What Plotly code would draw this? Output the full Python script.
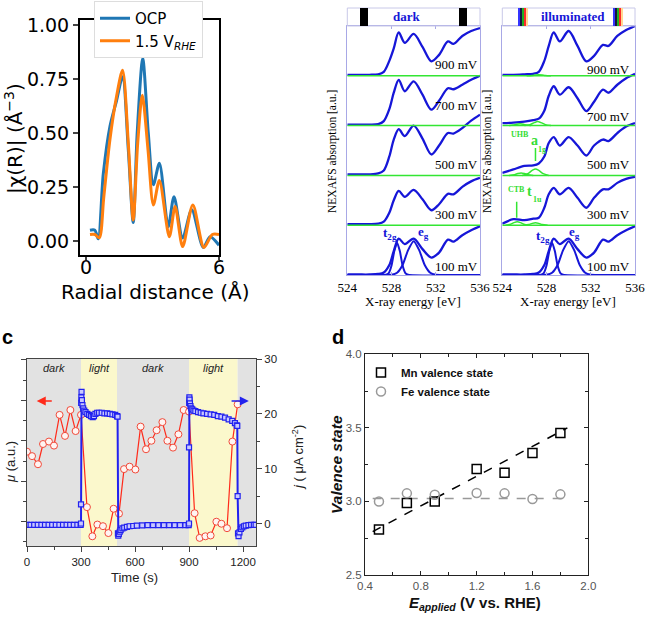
import plotly.graph_objects as go

W, H = 645, 619
def px(x): return x / W
def py(y): return 1 - y / H

# ---------------- Panel a: EXAFS |chi(R)| ----------------
r_ocp   = [0.18, 0.4, 0.55, 0.78, 1.08, 1.38, 1.65, 1.91, 2.13, 2.31, 2.56, 2.81, 3.04, 3.31, 3.71, 3.97, 4.36, 4.77, 5.29, 5.6, 6.0]
chi_ocp = [0.05, 0.05, 0.01, 0.31, 0.53, 0.65, 0.76, 0.42, 0.085, 0.50, 0.845, 0.50, 0.26, 0.36, 0.066, 0.205, 0.014, 0.145, -0.03, 0.02, -0.02]
r_15    = [0.18, 0.4, 0.6, 0.8, 1.08, 1.38, 1.65, 1.91, 2.13, 2.33, 2.54, 2.8, 3.04, 3.31, 3.76, 4.02, 4.36, 4.82, 5.32, 5.7, 6.0]
chi_15  = [0.03, 0.03, 0.015, 0.2, 0.47, 0.67, 0.79, 0.45, 0.097, 0.45, 0.675, 0.42, 0.167, 0.28, 0.02, 0.16, -0.026, 0.167, -0.03, 0.03, 0.03]

# ---------------- Panel b: NEXAFS spectra ----------------
E_spec = [524, 525, 526, 526.8, 527.3, 527.8, 528.2, 528.65, 529.2, 530.0, 530.8, 531.6, 532.3, 533.1, 533.6, 534.4, 535.2, 536]
potentials = ["100 mV", "300 mV", "500 mV", "700 mV", "900 mV"]
dark_spectra = [
    [0.01, 0.01, 0.01, 0.02, 0.05, 0.2, 0.48, 0.73, 0.62, 0.73, 0.52, 0.35, 0.45, 0.71, 0.67, 0.8, 0.9, 0.98],
    [0.02, 0.02, 0.02, 0.03, 0.07, 0.25, 0.5, 0.69, 0.57, 0.71, 0.52, 0.3, 0.42, 0.63, 0.62, 0.77, 0.88, 0.95],
    [0.02, 0.02, 0.02, 0.04, 0.1, 0.38, 0.72, 0.93, 0.79, 1.0, 0.74, 0.42, 0.6, 0.85, 0.84, 0.95, 1.1, 1.22],
    [0.02, 0.02, 0.02, 0.03, 0.09, 0.33, 0.66, 0.92, 0.69, 0.89, 0.62, 0.32, 0.5, 0.75, 0.73, 0.82, 0.92, 1.0],
    [0.02, 0.02, 0.02, 0.03, 0.08, 0.3, 0.55, 0.87, 0.66, 0.84, 0.58, 0.29, 0.42, 0.69, 0.64, 0.8, 0.9, 0.96],
]
ill_spectra = [
    [0.01, 0.01, 0.01, 0.02, 0.05, 0.2, 0.48, 0.73, 0.62, 0.73, 0.52, 0.35, 0.45, 0.71, 0.67, 0.8, 0.9, 0.98],
    [0.03, 0.12, 0.1, 0.13, 0.15, 0.35, 0.62, 0.75, 0.62, 0.75, 0.55, 0.35, 0.55, 0.72, 0.72, 0.85, 0.93, 0.97],
    [0.05, 0.12, 0.19, 0.2, 0.24, 0.38, 0.65, 0.77, 0.6, 0.77, 0.6, 0.4, 0.6, 0.72, 0.69, 0.85, 0.98, 1.05],
    [0.05, 0.06, 0.08, 0.11, 0.14, 0.3, 0.6, 0.79, 0.62, 0.77, 0.55, 0.29, 0.48, 0.72, 0.66, 0.82, 0.95, 1.04],
    [0.02, 0.02, 0.03, 0.04, 0.08, 0.3, 0.6, 0.87, 0.69, 0.9, 0.6, 0.29, 0.4, 0.62, 0.6, 0.8, 0.92, 1.0],
]
dark_label_y = [0.17, 0.22, 0.22, 0.4, 0.22]
ill_label_y = [0.17, 0.22, 0.22, 0.19, 0.12]
# 100 mV fit components
t2g_E = [524, 527.5, 527.75, 528.0, 528.25, 528.5, 528.75, 529.0, 529.25, 529.5, 536]
t2g_v = [0, 0.005, 0.04, 0.19, 0.48, 0.65, 0.48, 0.19, 0.04, 0.005, 0]
eg_E = [524, 527.5, 528.0, 528.5, 529.0, 529.5, 530.0, 530.5, 531.0, 531.5, 532.0, 532.5, 536]
eg_v = [0, 0.001, 0.005, 0.044, 0.2, 0.5, 0.68, 0.5, 0.2, 0.044, 0.005, 0.001, 0]
# illuminated green components: (potential index, energies, values)
green_comps = [
    (1, [524.3, 524.75, 525.05, 525.35, 525.65, 525.95, 526.4], [0, 0.02, 0.052, 0.07, 0.052, 0.02, 0]),
    (1, [525.9, 526.4, 526.7, 527.0, 527.3, 527.6, 528.1], [0, 0.014, 0.037, 0.05, 0.037, 0.014, 0]),
    (2, [524.6, 525.1, 525.4, 525.7, 526.0, 526.3, 526.8], [0, 0.015, 0.037, 0.05, 0.037, 0.015, 0]),
    (2, [525.8, 526.3, 526.7, 527.0, 527.3, 527.7, 528.2], [0, 0.035, 0.1, 0.13, 0.1, 0.035, 0]),
    (3, [524.6, 525.0, 525.3, 525.6, 525.9, 526.2, 526.6], [0, 0.01, 0.026, 0.035, 0.026, 0.01, 0]),
    (3, [526.0, 526.5, 526.9, 527.2, 527.5, 527.9, 528.4], [0, 0.02, 0.06, 0.08, 0.06, 0.02, 0]),
    (4, [526.2, 526.7, 527.0, 527.3, 527.6, 527.9, 528.4], [0, 0.006, 0.015, 0.02, 0.015, 0.006, 0]),
]
e_ticks = [524, 528, 532, 536]

# ---------------- Panel c: time series ----------------
mu_t = [0, 28, 61, 89, 122, 150, 181, 211, 241, 270, 300, 333, 363, 391, 422, 452, 481, 511, 539, 570,
        602, 631, 661, 691, 720, 752, 780, 811, 841, 870, 900, 931, 959, 991, 1020, 1052, 1080, 1111, 1141, 1170]
mu = [1.73, 1.62, 1.42, 1.92, 1.98, 1.88, 2.64, 2.12, 2.76, 2.24, 2.64, 0.36, -0.36, -0.07, -0.11, -0.28, 0.32, 0.2, 1.30, 1.36,
      1.29, 2.35, 1.79, 2.0, 2.26, 2.46, 2.0, 1.83, 2.16, 2.76, 2.72, 0.21, -0.40, -0.36, -0.34, 0.0, -0.05, -0.16, 1.98, 2.9]
j_t = [0, 20, 40, 60, 80, 100, 120, 140, 160, 180, 200, 220, 240, 260, 280, 298, 300, 300, 301, 302, 303, 305, 308, 312, 318, 325,
       335, 345, 355, 365, 372, 380, 390, 400, 415, 430, 445, 460, 475, 490, 500, 503, 505, 507, 510, 515, 520, 530, 540, 555,
       570, 590, 610, 640, 670, 700, 730, 760, 790, 820, 850, 880, 898, 900, 900, 901, 902, 903, 905, 908, 912, 918, 925, 935,
       950, 965, 980, 1000, 1020, 1040, 1060, 1080, 1100, 1120, 1140, 1155, 1165, 1168, 1170, 1172, 1175, 1180, 1188, 1196, 1205,
       1215, 1230, 1245, 1260, 1270]
j = [-0.25, -0.25, -0.25, -0.25, -0.25, -0.25, -0.25, -0.25, -0.25, -0.25, -0.25, -0.25, -0.25, -0.25, -0.25, -0.25, 0.0, 3.5,
     22.0, 23.0, 24.0, 22.5, 21.6, 21.0, 20.6, 20.3, 20.0, 19.8, 19.6, 19.4, 19.6, 20.0, 20.2, 20.2, 20.2, 20.1, 20.1, 20.0, 19.9,
     19.8, 19.6, 19.5, -1.8, -2.2, -1.9, -1.5, -1.2, -0.9, -0.75, -0.6, -0.5, -0.45, -0.4, -0.35, -0.3, -0.3, -0.3, -0.3, -0.3,
     -0.3, -0.3, -0.3, -0.3, 0.0, 13.9, 22.0, 23.0, 22.6, 21.9, 21.4, 21.0, 20.8, 20.6, 20.5, 20.3, 20.2, 20.1, 20.0, 19.9, 19.8,
     19.6, 19.5, 19.3, 19.0, 18.7, 18.3, 17.9, 17.8, 5.0, -1.8, -2.3, -1.6, -1.0, -0.7, -0.5, -0.4, -0.3, -0.25, -0.25, -0.25]
period_start = [0, 300, 500, 900, 1170]
period_end = [300, 500, 900, 1170, 1272]
period_label = ["dark", "light", "dark", "light", ""]

# ---------------- Panel d: valence states ----------------
E_app = [0.5, 0.7, 0.9, 1.2, 1.4, 1.6, 1.8]
mn_val = [2.81, 2.99, 3.00, 3.22, 3.195, 3.33, 3.465]
fe_val = [3.0, 3.055, 3.046, 3.057, 3.055, 3.017, 3.048]
mn_fit_x = [0.455, 1.85]
mn_fit_y = [2.795, 3.50]
fe_fit_x = [0.455, 1.85]
fe_fit_y = [3.02, 3.02]

BLUE_B = "#1616d8"
GREEN = "#33e633"
LAV = "#a8a8e6"
SERIF = "Liberation Serif"
SANS = "Liberation Sans"

fig = go.Figure()

# Panel a traces
fig.add_trace(go.Scatter(x=r_ocp, y=chi_ocp, mode="lines", name="OCP", xaxis="x", yaxis="y",
                         line=dict(color="#1f77b4", width=3, shape="spline", smoothing=0.8), legend="legend"))
fig.add_trace(go.Scatter(x=r_15, y=chi_15, mode="lines", name="1.5 V<sub><i>RHE</i></sub>", xaxis="x", yaxis="y",
                         line=dict(color="#ff7f0e", width=3, shape="spline", smoothing=0.8), legend="legend"))

# Panel b traces
shapes = []
annotations = []
for ax_id, spectra, lab_y, xr in [("2", dark_spectra, dark_label_y, 533.9), ("3", ill_spectra, ill_label_y, 533.6)]:
    for k in range(1, 5):
        shapes.append(dict(type="line", xref="x" + ax_id, yref="y" + ax_id, x0=524, x1=536, y0=k, y1=k,
                           line=dict(color=GREEN, width=1.5)))
    fig.add_trace(go.Scatter(x=t2g_E, y=t2g_v, mode="lines", xaxis="x" + ax_id, yaxis="y" + ax_id, showlegend=False,
                             line=dict(color=BLUE_B, width=2, shape="spline", smoothing=0.6)))
    fig.add_trace(go.Scatter(x=eg_E, y=eg_v, mode="lines", xaxis="x" + ax_id, yaxis="y" + ax_id, showlegend=False,
                             line=dict(color=BLUE_B, width=2, shape="spline", smoothing=0.6)))
    for k, arr in enumerate(spectra):
        fig.add_trace(go.Scatter(x=E_spec, y=[v + k for v in arr], mode="lines", xaxis="x" + ax_id, yaxis="y" + ax_id,
                                 showlegend=False, line=dict(color=BLUE_B, width=2.3, shape="spline", smoothing=0.9)))
        annotations.append(dict(x=xr, y=k + lab_y[k], xref="x" + ax_id, yref="y" + ax_id, text=potentials[k],
                                showarrow=False, font=dict(family=SERIF, size=13, color="black")))
for idx, Ec, vc in green_comps:
    fig.add_trace(go.Scatter(x=Ec, y=[v + idx for v in vc], mode="lines", xaxis="x3", yaxis="y3", showlegend=False,
                             line=dict(color=GREEN, width=1.5, shape="spline", smoothing=0.8)))

# t2g / eg labels
for ax_id, tx, ty, ex, ey in [("2", 527.85, 0.84, 530.85, 0.86), ("3", 527.65, 0.78, 530.5, 0.86)]:
    annotations.append(dict(x=tx, y=ty, xref="x" + ax_id, yref="y" + ax_id, text="<b>t<sub>2g</sub></b>", showarrow=False,
                            font=dict(family=SERIF, size=13, color=BLUE_B)))
    annotations.append(dict(x=ex, y=ey, xref="x" + ax_id, yref="y" + ax_id, text="<b>e<sub>g</sub></b>", showarrow=False,
                            font=dict(family=SERIF, size=13, color=BLUE_B)))
# green markers & labels (illuminated)
shapes.append(dict(type="line", xref="x3", yref="y3", x0=527.0, x1=527.0, y0=2.29, y1=2.55, line=dict(color=GREEN, width=1.5)))
shapes.append(dict(type="line", xref="x3", yref="y3", x0=525.3, x1=525.3, y0=1.15, y1=1.47, line=dict(color=GREEN, width=1.5)))
gfont_s = dict(family=SERIF, size=8, color="#33dd33")
gfont_l = dict(family=SERIF, size=14, color="#33dd33")
annotations += [
    dict(x=525.6, y=2.82, xref="x3", yref="y3", text="<b>UHB</b>", showarrow=False, font=gfont_s),
    dict(x=526.9, y=2.7, xref="x3", yref="y3", text="<b>a</b>", showarrow=False, font=gfont_l),
    dict(x=527.55, y=2.53, xref="x3", yref="y3", text="<b>1g</b>", showarrow=False, font=gfont_s),
    dict(x=525.3, y=1.72, xref="x3", yref="y3", text="<b>CTB</b>", showarrow=False, font=gfont_s),
    dict(x=526.5, y=1.68, xref="x3", yref="y3", text="<b>t</b>", showarrow=False, font=gfont_l),
    dict(x=527.15, y=1.52, xref="x3", yref="y3", text="<b>1u</b>", showarrow=False, font=gfont_s),
]

# Panel b header boxes
for x0, x1, label, cx in [(347.3, 480, "dark", 407), (502.3, 635, "illuminated", 573)]:
    shapes.append(dict(type="rect", xref="paper", yref="paper", x0=px(x0), x1=px(x1), y0=py(26), y1=py(8),
                       line=dict(color="#c8c8e8", width=1)))
    annotations.append(dict(x=px(cx), y=py(17), xref="paper", yref="paper", text="<b>" + label + "</b>", showarrow=False,
                            font=dict(family=SERIF, size=13, color=BLUE_B)))
for x0 in [360, 459]:
    shapes.append(dict(type="rect", xref="paper", yref="paper", x0=px(x0), x1=px(x0 + 8), y0=py(26), y1=py(8),
                       fillcolor="black", line=dict(width=0)))
stripe_cols = ["#3535ff", "#151540", "#20b020", "#ff2a2a", "#ffd890"]
for gx in [518, 613]:
    for i, c in enumerate(stripe_cols):
        shapes.append(dict(type="rect", xref="paper", yref="paper", x0=px(gx + 2 * i), x1=px(gx + 2 * i + 2),
                           y0=py(26), y1=py(8), fillcolor=c, line=dict(width=0)))
for cx in [333, 488]:
    annotations.append(dict(x=px(cx), y=py(152), xref="paper", yref="paper", text="NEXAFS absorption [a.u.]",
                            textangle=-90, showarrow=False, font=dict(family=SERIF, size=11.5, color="black")))
for cx in [413, 568]:
    annotations.append(dict(x=px(cx), y=py(301), xref="paper", yref="paper", text="X-ray energy [eV]",
                            showarrow=False, font=dict(family=SERIF, size=13, color="black")))

# Panel c
for s, e, lab in zip(period_start, period_end, period_label):
    col = "#fbf8cc" if lab == "light" else "#e2e2e2"
    shapes.append(dict(type="rect", xref="x4", yref="y4 domain", x0=s, x1=e, y0=0, y1=1, fillcolor=col,
                       line=dict(width=0), layer="below"))
    if lab:
        annotations.append(dict(x=(s + e) / 2, y=py(368), xref="x4", yref="paper", text="<i>" + lab + "</i>",
                                showarrow=False, font=dict(family=SANS, size=11, color="#222")))
fig.add_trace(go.Scatter(x=j_t, y=j, mode="lines+markers", xaxis="x4", yaxis="y5", showlegend=False,
                         line=dict(color="#2222ee", width=2),
                         marker=dict(symbol="square", size=5, color="#c8c8ff", line=dict(color="#2222ee", width=1.2))))
fig.add_trace(go.Scatter(x=mu_t, y=mu, mode="lines+markers", xaxis="x4", yaxis="y4", showlegend=False,
                         line=dict(color="#ff2a1a", width=1.2),
                         marker=dict(symbol="circle", size=7, color="#fff4f2", line=dict(color="#f04a3a", width=1))))
annotations += [
    dict(x=54, y=2.98, ax=146, ay=2.98, xref="x4", yref="y4", axref="x4", ayref="y4", text="", showarrow=True,
         arrowhead=2, arrowsize=1.2, arrowwidth=1.5, arrowcolor="#ff2a1a"),
    dict(x=1232, y=2.98, ax=1128, ay=2.98, xref="x4", yref="y4", axref="x4", ayref="y4", text="", showarrow=True,
         arrowhead=2, arrowsize=1.2, arrowwidth=1.5, arrowcolor="#2222ee"),
    dict(x=px(10), y=py(462), xref="paper", yref="paper", text="<i>μ</i> (a.u.)", textangle=-90, showarrow=False,
         font=dict(family=SANS, size=13, color="#222")),
    dict(x=px(298), y=py(458), xref="paper", yref="paper", text="<i>j</i> ( μA cm<sup>-2</sup>)", textangle=-90,
         showarrow=False, font=dict(family=SANS, size=13, color="#222")),
    dict(x=px(134), y=py(577), xref="paper", yref="paper", text="Time (s)", showarrow=False,
         font=dict(family=SANS, size=13, color="#222")),
    dict(x=px(7), y=py(337), xref="paper", yref="paper", text="<b>c</b>", showarrow=False,
         font=dict(family=SANS, size=20, color="black")),
]

# Panel d
fig.add_trace(go.Scatter(x=mn_fit_x, y=mn_fit_y, mode="lines", xaxis="x5", yaxis="y6", showlegend=False,
                         line=dict(color="black", width=1.5, dash="dash")))
fig.add_trace(go.Scatter(x=fe_fit_x, y=fe_fit_y, mode="lines", xaxis="x5", yaxis="y6", showlegend=False,
                         line=dict(color="#999999", width=1.5, dash="dash")))
fig.add_trace(go.Scatter(x=E_app, y=mn_val, mode="markers", name="Mn valence state", xaxis="x5", yaxis="y6",
                         legend="legend2",
                         marker=dict(symbol="square-open", size=9, color="black", line=dict(width=1.5))))
fig.add_trace(go.Scatter(x=E_app, y=fe_val, mode="markers", name="Fe valence state", xaxis="x5", yaxis="y6",
                         legend="legend2",
                         marker=dict(symbol="circle-open", size=9, color="#999999", line=dict(width=1.5))))
annotations += [
    dict(x=px(475), y=py(603), xref="paper", yref="paper",
         text="<b><i>E</i><sub><i>applied</i></sub> (V vs. RHE)</b>", showarrow=False,
         font=dict(family=SANS, size=15, color="#111")),
    dict(x=px(336), y=py(465), xref="paper", yref="paper", text="<b><i>Valence state</i></b>", textangle=-90,
         showarrow=False, font=dict(family=SANS, size=15.5, color="#111")),
    dict(x=px(338), y=py(337), xref="paper", yref="paper", text="<b>d</b>", showarrow=False,
         font=dict(family=SANS, size=20, color="black")),
]

# Panel a titles
annotations += [
    dict(x=px(155), y=py(292), xref="paper", yref="paper", text="Radial distance (Å)", showarrow=False,
         font=dict(family="DejaVu Sans", size=20, color="black")),
    dict(x=px(14), y=py(139), xref="paper", yref="paper", text="|χ(R)| (Å<sup>−3</sup>)", textangle=-90,
         showarrow=False, font=dict(family="DejaVu Sans", size=20, color="black")),
]
for a in annotations:
    a.setdefault("xanchor", "center")
    a.setdefault("yanchor", "middle")

axis_a = dict(showline=True, linecolor="black", linewidth=2, mirror=True, ticks="outside", ticklen=5, tickwidth=2,
              showgrid=False, zeroline=False, automargin=False,
              tickfont=dict(family="DejaVu Sans", size=19, color="black"))
axis_b = dict(showline=True, linecolor=LAV, linewidth=1, mirror="ticks", ticks="inside", ticklen=3, tickcolor=LAV,
              showgrid=False, zeroline=False, automargin=False, ticklabeloverflow="allow",
              tickfont=dict(family=SERIF, size=13, color="black"))
axis_c = dict(showline=True, linecolor="#444", linewidth=1, mirror=True, ticks="outside", ticklen=5, tickcolor="#444",
              showgrid=False, zeroline=False, automargin=False, tickfont=dict(family=SANS, size=11.5, color="#222"))
axis_d = dict(showline=True, linecolor="#222", linewidth=1, mirror="allticks", ticks="inside", ticklen=4,
              tickcolor="#222", showgrid=False, zeroline=False, automargin=False,
              tickfont=dict(family=SANS, size=11.5, color="#555"))

fig.update_layout(
    width=W, height=H, margin=dict(l=0, r=0, t=0, b=0, autoexpand=False),
    paper_bgcolor="white", plot_bgcolor="white",
    xaxis=dict(axis_a, domain=[px(80), px(219)], range=[-0.27, 6.0], tickvals=[0, 6], ticklen=3,
               ticklabelstandoff=-9, ticklabeloverflow="allow", anchor="y"),
    yaxis=dict(axis_a, domain=[py(255), py(20)], range=[-0.065, 1.023], tickvals=[0, 0.25, 0.5, 0.75, 1.0],
               tickformat=".2f", anchor="x"),
    xaxis2=dict(axis_b, domain=[px(347.3), px(480)], range=[524, 536], tickvals=e_ticks, anchor="y2"),
    yaxis2=dict(axis_b, domain=[py(275), py(26)], range=[0, 5], showticklabels=False, ticks="", anchor="x2"),
    xaxis3=dict(axis_b, domain=[px(502.3), px(635)], range=[524, 536], tickvals=e_ticks, anchor="y3"),
    yaxis3=dict(axis_b, domain=[py(275), py(26)], range=[0, 5], showticklabels=False, ticks="", anchor="x3"),
    xaxis4=dict(axis_c, domain=[px(27), px(256)], range=[0, 1272], tickvals=[0, 300, 600, 900, 1200],
                minor=dict(dtick=150, ticks="outside", ticklen=3, tickcolor="#444"), anchor="y4"),
    yaxis4=dict(axis_c, domain=[py(546), py(359)], range=[-0.6, 4.02], tickvals=[0, 1, 2, 3, 4], showticklabels=False,
                minor=dict(dtick=0.5, ticks="outside", ticklen=3, tickcolor="#444"), anchor="x4"),
    yaxis5=dict(axis_c, domain=[py(546), py(359)], range=[-4.1, 30], tickvals=[0, 10, 20, 30], side="right",
                overlaying="y4", anchor="x4", mirror=False,
                minor=dict(tickvals=[5, 15, 25], ticks="outside", ticklen=3, tickcolor="#444")),
    xaxis5=dict(axis_d, domain=[px(365), px(588.3)], range=[0.4, 2.0], tickvals=[0.4, 0.8, 1.2, 1.6, 2.0],
                tickformat=".1f", minor=dict(dtick=0.2, ticks="inside", ticklen=3, tickcolor="#222"), anchor="y6"),
    yaxis6=dict(axis_d, domain=[py(575), py(354.3)], range=[2.5, 4.0], tickvals=[2.5, 3.0, 3.5, 4.0],
                tickformat=".1f", minor=dict(dtick=0.25, ticks="inside", ticklen=3, tickcolor="#222"), anchor="x5"),
    legend=dict(x=px(94), y=py(1), xanchor="left", yanchor="top", bgcolor="white", bordercolor="#dddddd",
                borderwidth=1, font=dict(family="DejaVu Sans", size=15, color="black"), tracegroupgap=0),
    legend2=dict(x=px(361), y=py(358), xanchor="left", yanchor="top", bgcolor="rgba(0,0,0,0)", borderwidth=0,
                 font=dict(family=SANS, size=11.5, color="#111", weight="bold"), tracegroupgap=0, itemwidth=30),
    shapes=shapes, annotations=annotations,
)
fig.write_html("out.html", config={"displayModeBar": False},
               post_script="document.body.style.margin='0px';document.body.style.overflow='hidden';")
